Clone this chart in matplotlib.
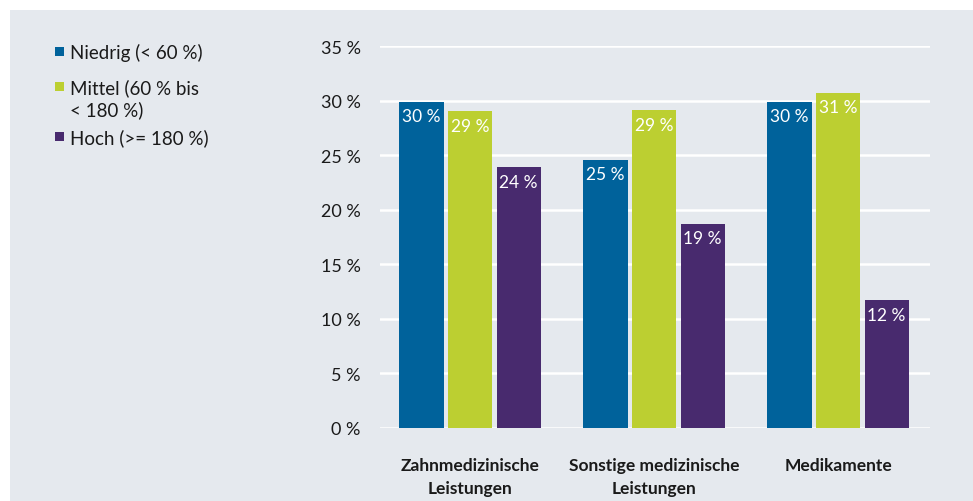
import matplotlib
matplotlib.use('Agg')
import matplotlib.pyplot as plt
import numpy as np
from matplotlib.patches import Rectangle

plt.rcParams['font.family'] = ['Lato', 'DejaVu Sans']

# Data
categories = ['Zahnmedizinische\nLeistungen', 'Sonstige medizinische\nLeistungen', 'Medikamente']
series_names = ['Niedrig (< 60 %)', 'Mittel (60 % bis\n< 180 %)', 'Hoch (>= 180 %)']
niedrig = [29.9, 24.6, 29.9]
mittel = [29.0, 29.1, 30.7]
hoch = [23.9, 18.7, 11.7]
bar_labels = [['30 %', '25 %', '30 %'], ['29 %', '29 %', '31 %'], ['24 %', '19 %', '12 %']]
y_ticks = [0, 5, 10, 15, 20, 25, 30, 35]

colors = ['#00629b', '#bccf31', '#482a6e']
bg = '#e5e9ee'
W, H = 973, 502

fig = plt.figure(figsize=(9.73, 5.02), dpi=100)
fig.patch.set_facecolor('white')
# grey panel behind everything (white margin only at top and left)
fig.patches.append(Rectangle((10 / W, -0.1), 1, 1.1 - 11 / H, transform=fig.transFigure,
                             facecolor=bg, edgecolor='none', zorder=-5))

ax = fig.add_axes([380 / W, 73 / H, 550 / W, 382 / H])
ax.set_facecolor('none')

x = np.arange(len(categories))
width = 0.24
step = 0.264
for i, vals in enumerate([niedrig, mittel, hoch]):
    bars = ax.bar(x + (i - 1) * step, vals, width, color=colors[i], zorder=3)
    for b, lab in zip(bars, bar_labels[i]):
        ax.text(b.get_x() + b.get_width() / 2, b.get_height() - 0.6, lab,
                ha='center', va='top', color='white', fontsize=12.5, zorder=4)

ax.set_ylim(0, 35)
ax.set_xlim(-0.49, 2.5)
ax.set_yticks(y_ticks)
ax.set_yticklabels([f'{t} %' for t in y_ticks], fontsize=13, color='#1a1a1a')
ax.set_xticks(x)
ax.set_xticklabels(categories, fontsize=12.5, fontweight='bold', color='#1a1a1a',
                   linespacing=1.5)
ax.grid(axis='y', color='white', linewidth=1.8, zorder=1)
ax.set_axisbelow(True)
for s in ax.spines.values():
    s.set_visible(False)
ax.tick_params(axis='both', length=0)
ax.tick_params(axis='y', pad=14)
ax.tick_params(axis='x', pad=21)

# legend drawn by hand: square + text, first line of each entry next to the square
legend_rows = [53, 88, 138]
for name, c, yy in zip(series_names, colors, legend_rows):
    fig.patches.append(Rectangle((55 / W, 1 - (yy + 4) / H), 9 / W, 9 / H,
                                 transform=fig.transFigure, facecolor=c, edgecolor='none'))
    fig.text(70 / W, 1 - (yy - 9) / H, name, ha='left', va='top', fontsize=13.5,
             color='#1a1a1a', linespacing=1.3)

plt.savefig('out.png', dpi=100)
